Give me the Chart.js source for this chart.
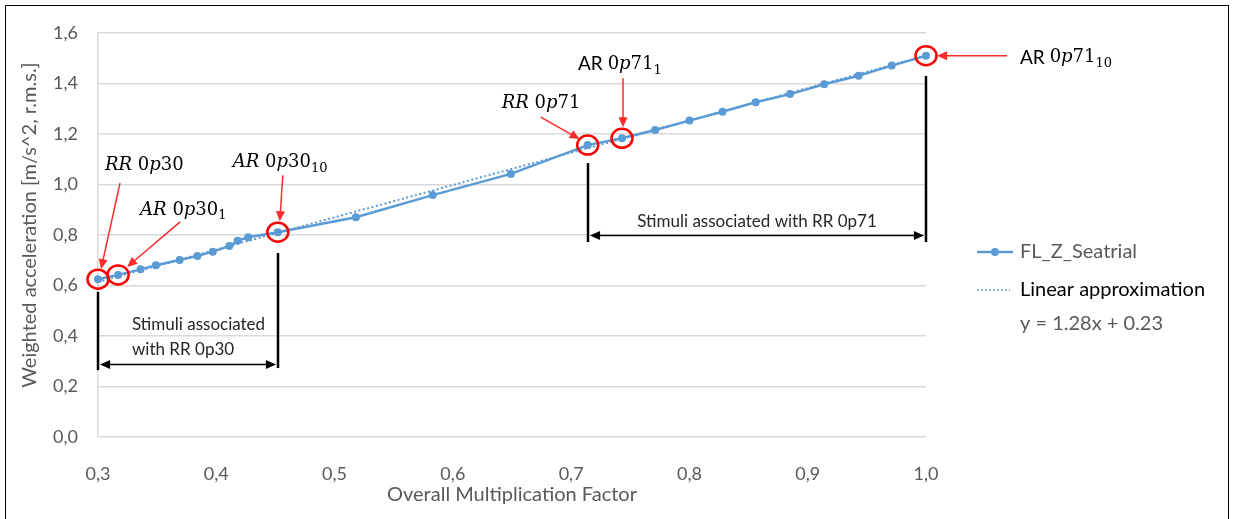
<!DOCTYPE html>
<html>
<head>
<meta charset="utf-8">
<script src="https://cdn.jsdelivr.net/npm/chart.js@4.4.0/dist/chart.umd.min.js"></script>
<style>
  html, body { margin: 0; padding: 0; background: #fff; }
  #wrap { width: 1234px; height: 519px; }
</style>
</head>
<body>
<div id="wrap"><canvas id="chart" width="1234" height="519"></canvas></div>
<script>
// valores
const factorX = [0.300, 0.317, 0.336, 0.349, 0.369, 0.384, 0.397, 0.411, 0.418, 0.427, 0.452,
  0.518, 0.583, 0.649, 0.714, 0.743, 0.771, 0.800, 0.828, 0.856, 0.885, 0.914, 0.943, 0.971, 1.000]
const accelY = [0.625, 0.642, 0.664, 0.680, 0.701, 0.717, 0.734, 0.756, 0.777, 0.791, 0.811,
  0.870, 0.958, 1.042, 1.156, 1.183, 1.216, 1.253, 1.288, 1.326, 1.358, 1.397, 1.431, 1.471, 1.510]
const trendX = [0.30, 1.00]
const trendY = [0.614, 1.510]

const xTickValues = [0.3, 0.4, 0.5, 0.6, 0.7, 0.8, 0.9, 1.0]
const xTickLabels = ['0,3', '0,4', '0,5', '0,6', '0,7', '0,8', '0,9', '1,0']
const yTickValues = [0, 0.2, 0.4, 0.6, 0.8, 1.0, 1.2, 1.4, 1.6]
const yTickLabels = ['0,0', '0,2', '0,4', '0,6', '0,8', '1,0', '1,2', '1,4', '1,6']

const seriesName = 'FL_Z_Seatrial'
const trendName = 'Linear approximation'
const trendEquation = 'y = 1.28x + 0.23'
const yTitle = 'Weighted acceleration [m/s^2, r.m.s.]'

const BLUE = '#5B9BD5'
const SANS = 'Lato, "Open Sans", sans-serif'

// etiquetas de los estimulos marcados (indice del punto + texto)
const callouts = [
  { idx: 0,  parts: [['RR ', 'i'], ['0', ''], ['p', 'i'], ['30', '']], lx: 7, ly: -114, a: [22, -96, 3, -10] },
  { idx: 1,  parts: [['AR ', 'i'], ['0', ''], ['p', 'i'], ['30', ''], ['1', 'sub']], lx: 22, ly: -65, a: [62, -53, 9, -8] },
  { idx: 10, parts: [['AR ', 'i'], ['0', ''], ['p', 'i'], ['30', ''], ['10', 'sub']], lx: -45, ly: -70, a: [5, -57, 2, -11] },
  { idx: 14, parts: [['RR ', 'i'], ['0', ''], ['p', 'i'], ['71', '']], lx: -86, ly: -42, a: [-47, -28, -8, -6] },
  { idx: 15, parts: [['AR ', 'sans'], ['0', ''], ['p', 'i'], ['71', ''], ['1', 'sub']], lx: -44, ly: -74, a: [1, -60, 1, -11] },
  { idx: 24, parts: [['AR ', 'sans'], ['0', ''], ['p', 'i'], ['71', ''], ['10', 'sub']], lx: 94, ly: 2, a: [81, 0, 11, 0] }
]

// lineas verticales negras y rangos (en unidades de datos)
const markers = [
  { idx: 0, y1: 0.575, y2: 0.265 },
  { idx: 10, y1: 0.729, y2: 0.273 },
  { idx: 14, y1: 1.085, y2: 0.772 },
  { idx: 24, y1: 1.430, y2: 0.772 }
]
const ranges = [
  { from: 0, to: 10, y: 0.289, lines: ['Stimuli associated', 'with RR 0p30'], align: 'left' },
  { from: 14, to: 24, y: 0.800, lines: ['Stimuli associated with RR 0p71'], align: 'center' }
]

function drawMath(ctx, x, y, parts) {
  let cx = x
  ctx.textBaseline = 'middle'
  ctx.textAlign = 'left'
  ctx.fillStyle = '#000'
  parts.forEach(([txt, style]) => {
    let size = 18, dy = 0
    let font = `${size}px "DejaVu Serif"`
    if (style === 'i') font = `italic ${size}px "DejaVu Serif"`
    if (style === 'sans') font = `19px ${SANS}`
    if (style === 'sub') { size = 13; dy = 6; font = `${size}px "DejaVu Serif"` }
    ctx.font = font
    ctx.fillText(txt, cx, y + dy)
    cx += ctx.measureText(txt).width
  })
}

function arrowHead(ctx, x1, y1, x2, y2, head) {
  const a = Math.atan2(y2 - y1, x2 - x1)
  ctx.beginPath()
  ctx.moveTo(x2, y2)
  ctx.lineTo(x2 - head * Math.cos(a - 0.42), y2 - head * Math.sin(a - 0.42))
  ctx.lineTo(x2 - head * Math.cos(a + 0.42), y2 - head * Math.sin(a + 0.42))
  ctx.closePath()
  ctx.fill()
}

function arrow(ctx, x1, y1, x2, y2, color, w, head) {
  const a = Math.atan2(y2 - y1, x2 - x1)
  ctx.strokeStyle = color
  ctx.fillStyle = color
  ctx.lineWidth = w
  ctx.beginPath()
  ctx.moveTo(x1, y1)
  ctx.lineTo(x2 - Math.cos(a) * head * 0.8, y2 - Math.sin(a) * head * 0.8)
  ctx.stroke()
  arrowHead(ctx, x1, y1, x2, y2, head)
}

const annotationsPlugin = {
  id: 'annotations',
  afterDatasetsDraw(chart) {
    const ctx = chart.ctx
    const xs = chart.scales.x, ys = chart.scales.y
    const px = i => xs.getPixelForValue(factorX[i])
    const py = i => ys.getPixelForValue(accelY[i])
    ctx.save()

    // lineas verticales
    ctx.strokeStyle = '#000'
    ctx.lineWidth = 2.5
    markers.forEach(m => {
      const x = Math.round(px(m.idx))
      ctx.beginPath()
      ctx.moveTo(x, ys.getPixelForValue(m.y1))
      ctx.lineTo(x, ys.getPixelForValue(m.y2))
      ctx.stroke()
    })

    // flechas dobles + textos
    ranges.forEach(r => {
      const x1 = Math.round(px(r.from)) + 2, x2 = Math.round(px(r.to)) - 2
      const y = Math.round(ys.getPixelForValue(r.y)) + 0.5
      ctx.strokeStyle = '#000'
      ctx.fillStyle = '#000'
      ctx.lineWidth = 1.5
      ctx.beginPath()
      ctx.moveTo(x1 + 8, y)
      ctx.lineTo(x2 - 8, y)
      ctx.stroke()
      arrowHead(ctx, x2, y, x1, y, 11)
      arrowHead(ctx, x1, y, x2, y, 11)
      ctx.font = `17px ${SANS}`
      ctx.fillStyle = '#262626'
      ctx.textBaseline = 'middle'
      if (r.align === 'left') {
        ctx.textAlign = 'left'
        r.lines.forEach((t, k) => ctx.fillText(t, x1 + 32, y - 40 + k * 25))
      } else {
        ctx.textAlign = 'center'
        ctx.fillText(r.lines[0], (x1 + x2) / 2, y - 14)
      }
    })

    // circulos rojos, flechas rojas, etiquetas
    callouts.forEach(c => {
      const x = px(c.idx), y = py(c.idx)
      ctx.strokeStyle = '#ff0000'
      ctx.lineWidth = 2.5
      ctx.beginPath()
      ctx.ellipse(x, y, 10.5, 9.5, 0, 0, Math.PI * 2)
      ctx.stroke()
      arrow(ctx, x + c.a[0], y + c.a[1], x + c.a[2], y + c.a[3], '#ff2a2a', 1.5, 11)
      drawMath(ctx, x + c.lx, y + c.ly, c.parts)
    })

    ctx.restore()
  },
  afterDraw(chart) {
    const ctx = chart.ctx
    const area = chart.chartArea
    ctx.save()
    // titulo del eje Y (un poco por encima del centro, como en el original)
    ctx.translate(30, (area.top + area.bottom) / 2 - 10)
    ctx.rotate(-Math.PI / 2)
    ctx.font = `20px ${SANS}`
    ctx.fillStyle = '#595959'
    ctx.textAlign = 'center'
    ctx.textBaseline = 'middle'
    ctx.fillText(yTitle, 0, 0)
    ctx.setTransform(1, 0, 0, 1, 0, 0)

    // leyenda a mano
    const lx = area.right + 51, tx = area.right + 94
    ctx.strokeStyle = BLUE
    ctx.fillStyle = BLUE
    ctx.lineWidth = 2.5
    ctx.beginPath(); ctx.moveTo(lx, 252); ctx.lineTo(lx + 36, 252); ctx.stroke()
    ctx.beginPath(); ctx.arc(lx + 18, 252, 4, 0, Math.PI * 2); ctx.fill()
    ctx.lineWidth = 1.5
    ctx.setLineDash([2, 2])
    ctx.beginPath(); ctx.moveTo(lx, 290); ctx.lineTo(lx + 33, 290); ctx.stroke()
    ctx.setLineDash([])
    ctx.font = `20px ${SANS}`
    ctx.textBaseline = 'middle'
    ctx.textAlign = 'left'
    ctx.fillStyle = '#595959'
    ctx.fillText(seriesName, tx, 252)
    ctx.fillStyle = '#000'
    ctx.fillText(trendName, tx, 290)
    ctx.fillStyle = '#595959'
    ctx.fillText(trendEquation, tx, 324)
    // marco
    ctx.strokeStyle = '#000'
    ctx.lineWidth = 1
    ctx.strokeRect(5.5, 5.5, 1223, 600)
    ctx.restore()
  }
}

const ctx = document.getElementById('chart').getContext('2d')
new Chart(ctx, {
  type: 'scatter',
  data: {
    datasets: [
      {
        label: trendName,
        data: trendX.map((x, i) => ({ x, y: trendY[i] })),
        showLine: true,
        borderColor: BLUE,
        borderWidth: 2,
        borderDash: [2, 2.5],
        pointRadius: 0,
        clip: false,
        order: 0
      },
      {
        label: seriesName,
        data: factorX.map((x, i) => ({ x, y: accelY[i] })),
        showLine: true,
        borderColor: BLUE,
        backgroundColor: BLUE,
        borderWidth: 2.5,
        pointRadius: 4,
        pointBorderWidth: 0,
        clip: false,
        order: 1
      }
    ]
  },
  options: {
    responsive: false,
    animation: false,
    devicePixelRatio: 1,
    layout: { padding: { top: 33, right: 308, bottom: 0, left: 10 } },
    plugins: {
      legend: { display: false },
      tooltip: { enabled: false }
    },
    scales: {
      x: {
        type: 'linear',
        min: 0.3,
        max: 1.0,
        afterBuildTicks: s => { s.ticks = xTickValues.map(v => ({ value: v })) },
        afterFit: s => { s.height = 82 },
        grid: { display: false },
        border: { display: false },
        ticks: {
          padding: 18,
          color: '#595959',
          font: { family: SANS, size: 18 },
          callback: (v, i) => xTickLabels[i]
        },
        title: {
          display: true,
          text: 'Overall Multiplication Factor',
          color: '#595959',
          font: { family: SANS, size: 20 },
          padding: { top: 4, bottom: 12 }
        }
      },
      y: {
        type: 'linear',
        min: 0,
        max: 1.6,
        afterBuildTicks: s => { s.ticks = yTickValues.map(v => ({ value: v })) },
        afterFit: s => { s.width = 88 },
        grid: { color: '#d9d9d9', lineWidth: 1.5, drawTicks: false },
        border: { display: true, color: '#d9d9d9', width: 1.5 },
        ticks: {
          padding: 20,
          color: '#595959',
          font: { family: SANS, size: 18 },
          callback: (v, i) => yTickLabels[i]
        },
        title: { display: false }
      }
    }
  },
  plugins: [annotationsPlugin]
})
</script>
</body>
</html>
